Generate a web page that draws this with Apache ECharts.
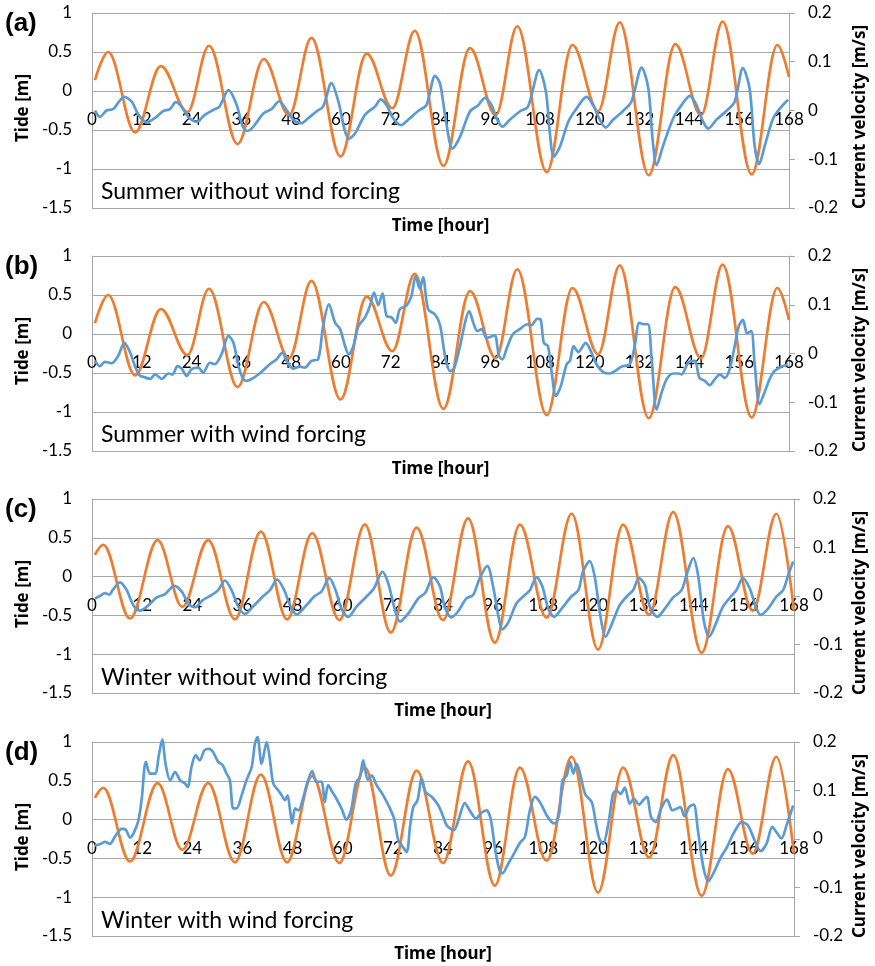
<!DOCTYPE html>
<html><head><meta charset="utf-8">
<script src="https://cdn.jsdelivr.net/npm/echarts@6/dist/echarts.min.js"></script>
<style>html,body{margin:0;padding:0;background:#fff}#c{width:875px;height:966px}</style>
</head><body><div id="c"></div>
<script>
// ---------- data ----------
const panelLetters = ['(a)', '(b)', '(c)', '(d)'];
const panelTitles = ['Summer without wind forcing', 'Summer with wind forcing', 'Winter without wind forcing', 'Winter with wind forcing'];
const xAxisTitle = 'Time [hour]';
const leftAxisTitle = 'Tide [m]';
const rightAxisTitle = 'Current velocity [m/s]';

// tide [m] : [hour, value] at turning points
const summerTide = [[0.7,0.14],[3.9,0.50],[10.4,-0.53],[16.6,0.32],[23.0,-0.27],[28.2,0.58],[35.1,-0.68],[41.4,0.41],[47.5,-0.31],[52.9,0.68],[59.9,-0.84],[66.2,0.48],[72.4,-0.22],[77.8,0.77],[84.7,-0.96],[91.1,0.55],[97.3,-0.31],[102.5,0.83],[109.6,-1.04],[115.8,0.59],[122.0,-0.26],[127.2,0.88],[134.2,-1.08],[140.6,0.60],[146.8,-0.31],[152.0,0.89],[159.0,-1.07],[165.2,0.59],[168,0.18]];
const winterTide = [[0.7,0.28],[2.7,0.41],[9.1,-0.54],[15.7,0.47],[21.6,-0.39],[27.8,0.47],[34.2,-0.55],[40.4,0.58],[46.7,-0.55],[52.7,0.56],[59.2,-0.56],[65.3,0.67],[71.5,-0.72],[77.7,0.63],[84.0,-0.56],[90.0,0.75],[96.4,-0.85],[102.4,0.67],[108.8,-0.53],[114.8,0.81],[121.1,-0.94],[127.1,0.67],[133.3,-0.49],[139.1,0.83],[145.9,-0.98],[152.2,0.65],[158.1,-0.44],[163.8,0.81],[168,-0.44]];

// current velocity [m/s]
const velA = [[0.7,0.000],[1.9,-0.013],[3.5,0.000],[5.1,0.003],[7.8,0.028],[9.6,0.018],[11.2,-0.009],[13.2,-0.024],[15.2,-0.015],[17.2,-0.001],[18.8,0.003],[20.2,0.017],[21.6,0.008],[23.2,-0.013],[25.2,-0.023],[27.2,-0.009],[29.2,0.001],[30.7,0.008],[32.9,0.042],[34.9,0.011],[36.2,-0.030],[37.4,-0.042],[38.9,-0.033],[41.3,-0.006],[43.3,0.003],[45.1,0.019],[46.9,0.001],[48.5,-0.019],[50.4,-0.026],[52.1,-0.016],[54.1,-0.002],[55.7,0.008],[57.7,0.056],[59.4,0.018],[60.8,-0.037],[61.9,-0.058],[63.4,-0.047],[65.8,-0.009],[68.2,0.008],[69.6,0.023],[71.0,0.011],[72.6,-0.016],[74.5,-0.030],[76.2,-0.019],[78.6,-0.001],[80.6,0.011],[82.7,0.071],[83.9,0.055],[85.2,-0.015],[86.9,-0.078],[88.7,-0.054],[91.1,-0.002],[93.1,0.011],[94.7,0.026],[96.3,0.011],[97.5,-0.016],[98.9,-0.033],[100.7,-0.019],[103.1,-0.002],[105.1,0.008],[107.8,0.083],[109.4,0.039],[110.4,-0.050],[111.3,-0.095],[112.8,-0.074],[114.8,-0.023],[116.8,0.004],[119.2,0.028],[120.8,0.011],[122.4,-0.019],[123.8,-0.035],[125.6,-0.019],[128.0,-0.001],[130.0,0.018],[132.5,0.088],[134.1,0.045],[135.1,-0.057],[136.1,-0.112],[137.7,-0.071],[140.1,-0.016],[142.1,0.011],[144.1,0.030],[145.7,0.011],[147.3,-0.023],[148.5,-0.037],[150.5,-0.019],[152.9,-0.001],[154.9,0.018],[156.9,0.087],[158.5,0.045],[159.7,-0.071],[160.8,-0.110],[162.2,-0.071],[164.2,-0.016],[166.2,0.008],[167.8,0.022]];
const velB = [[0.7,-0.015],[1.9,-0.026],[3.1,-0.017],[4.7,-0.020],[6.3,-0.005],[7.8,0.022],[9.2,0.002],[10.4,-0.027],[11.6,-0.046],[12.4,-0.048],[14.0,-0.052],[15.2,-0.043],[16.9,-0.052],[18.4,-0.041],[19.4,-0.043],[20.6,-0.026],[21.6,-0.031],[22.8,-0.046],[24.0,-0.032],[25.6,-0.029],[26.8,-0.039],[28.4,-0.019],[29.6,-0.022],[31.2,-0.002],[32.9,0.036],[34.1,0.022],[35.3,-0.026],[36.5,-0.053],[37.3,-0.056],[38.5,-0.052],[40.1,-0.043],[41.7,-0.031],[43.3,-0.019],[44.5,-0.012],[45.9,0.002],[46.9,-0.015],[48.5,-0.031],[50.1,-0.027],[51.3,-0.029],[52.9,-0.015],[54.5,-0.012],[55.7,0.056],[57.1,0.101],[58.6,0.063],[59.8,0.050],[61.0,0.015],[61.9,-0.002],[63.0,0.015],[64.2,0.056],[65.8,0.074],[67.0,0.098],[68.0,0.125],[69.0,0.099],[70.0,0.123],[71.0,0.077],[72.2,0.074],[73.2,0.063],[74.2,0.091],[75.8,0.098],[77.0,0.118],[78.0,0.159],[79.0,0.133],[79.8,0.156],[81.0,0.091],[82.7,0.080],[83.9,0.058],[85.1,-0.005],[86.3,-0.036],[87.2,-0.032],[88.7,0.015],[89.9,0.063],[90.9,0.087],[91.9,0.063],[92.9,0.046],[93.9,0.050],[95.1,0.032],[96.3,0.035],[97.1,0.037],[98.1,-0.005],[98.9,-0.012],[99.9,0.009],[101.4,0.039],[103.1,0.050],[104.9,0.060],[105.9,0.058],[107.3,0.071],[108.1,0.070],[108.9,0.022],[109.9,0.015],[110.8,-0.039],[111.8,-0.087],[113.0,-0.067],[114.4,-0.022],[115.2,-0.015],[116.1,0.015],[117.2,0.003],[119.0,0.022],[120.4,0.002],[121.6,-0.022],[123.2,-0.038],[124.8,-0.041],[126.4,-0.034],[127.6,-0.027],[129.6,-0.022],[130.8,0.015],[131.9,0.063],[133.0,0.060],[134.0,0.060],[134.9,-0.012],[136.1,-0.115],[137.3,-0.080],[138.5,-0.053],[140.1,-0.041],[141.3,-0.041],[142.1,-0.043],[143.7,-0.019],[145.3,-0.015],[146.4,-0.050],[147.7,-0.056],[148.9,-0.065],[150.1,-0.053],[151.3,-0.043],[152.5,-0.050],[153.7,-0.032],[154.9,0.015],[155.9,0.056],[156.9,0.069],[157.9,0.041],[158.9,0.046],[159.7,-0.019],[160.9,-0.104],[162.1,-0.080],[163.3,-0.053],[164.5,-0.036],[166.2,-0.027],[167.8,-0.022]];
const velC = [[0.7,-0.005],[1.9,0.000],[3.1,0.006],[4.1,0.003],[5.1,0.014],[6.7,0.028],[8.3,0.012],[9.9,-0.019],[11.5,-0.030],[13.5,-0.019],[15.5,-0.003],[17.5,0.004],[19.7,0.021],[21.5,0.009],[23.0,-0.015],[24.6,-0.023],[26.6,-0.008],[28.6,0.002],[30.2,0.012],[31.8,0.032],[33.4,0.012],[35.0,-0.022],[36.6,-0.037],[38.6,-0.021],[41.0,0.000],[42.6,0.012],[44.3,0.034],[46.0,0.012],[47.4,-0.019],[49.0,-0.038],[51.0,-0.022],[53.3,0.000],[54.9,0.009],[56.8,0.037],[58.3,0.012],[59.7,-0.026],[61.3,-0.043],[63.3,-0.022],[65.7,-0.001],[67.5,0.016],[69.5,0.050],[70.9,0.026],[72.3,-0.022],[73.7,-0.053],[75.7,-0.036],[78.1,-0.005],[79.7,0.006],[81.7,0.039],[83.3,0.019],[84.4,-0.022],[86.0,-0.044],[87.6,-0.032],[89.6,-0.005],[91.2,0.002],[92.8,0.037],[94.6,0.062],[96.0,0.019],[97.2,-0.039],[98.2,-0.069],[99.6,-0.055],[101.6,-0.015],[103.6,0.002],[104.8,0.012],[106.4,0.039],[107.8,0.019],[109.2,-0.026],[110.6,-0.043],[112.4,-0.026],[114.7,-0.001],[116.4,0.012],[117.5,0.050],[119.1,0.072],[120.3,0.040],[121.7,-0.043],[122.9,-0.084],[124.3,-0.060],[126.3,-0.019],[128.3,0.002],[129.5,0.012],[130.9,0.037],[132.3,0.023],[133.5,-0.022],[135.3,-0.043],[137.1,-0.026],[139.1,-0.003],[141.1,0.012],[142.4,0.047],[143.9,0.078],[145.1,0.040],[146.4,-0.050],[147.7,-0.084],[149.0,-0.063],[151.0,-0.022],[153.0,0.000],[154.2,0.012],[155.8,0.037],[157.4,0.016],[158.6,-0.015],[160.0,-0.039],[161.8,-0.026],[163.8,-0.001],[165.4,0.012],[166.6,0.043],[167.8,0.071]];
const velD = [[0.7,-0.013],[1.9,-0.011],[3.1,-0.006],[4.3,-0.010],[5.5,0.005],[7.1,0.021],[8.1,0.019],[9.1,0.003],[9.9,0.011],[11.1,0.038],[11.9,0.083],[12.9,0.159],[13.9,0.135],[15.1,0.135],[16.0,0.173],[16.8,0.205],[17.6,0.155],[18.7,0.121],[19.9,0.138],[21.1,0.121],[22.2,0.115],[22.9,0.107],[23.8,0.148],[24.8,0.173],[25.8,0.162],[26.9,0.183],[28.0,0.186],[29.0,0.179],[30.2,0.159],[31.2,0.153],[32.2,0.135],[33.0,0.121],[33.8,0.063],[34.6,0.063],[35.8,0.090],[37.0,0.122],[38.2,0.148],[39.0,0.197],[39.6,0.210],[40.6,0.155],[41.8,0.200],[42.6,0.162],[43.4,0.114],[44.6,0.100],[45.4,0.090],[46.2,0.080],[46.8,0.090],[47.4,0.059],[47.9,0.032],[48.6,0.063],[49.4,0.059],[50.6,0.087],[51.6,0.118],[52.7,0.140],[53.7,0.118],[54.9,0.118],[55.7,0.076],[56.5,0.111],[57.5,0.097],[58.5,0.083],[59.7,0.063],[60.9,0.040],[62.0,0.059],[63.1,0.114],[64.1,0.128],[64.9,0.162],[66.0,0.122],[66.9,0.131],[68.1,0.111],[69.7,0.090],[71.3,0.063],[72.3,0.042],[73.3,-0.003],[74.1,-0.013],[75.3,-0.027],[76.1,0.025],[76.9,0.066],[77.9,0.080],[78.9,0.124],[79.8,0.097],[81.3,0.087],[82.9,0.069],[84.1,0.045],[84.9,0.028],[86.6,0.018],[87.9,0.045],[89.2,0.074],[90.6,0.056],[91.9,0.042],[93.2,0.054],[94.4,0.059],[95.4,0.042],[96.4,-0.016],[97.4,-0.061],[98.2,-0.071],[99.6,-0.051],[101.2,-0.027],[102.4,-0.008],[103.6,0.004],[104.8,0.059],[106.0,0.087],[107.2,0.076],[108.8,0.049],[110.0,0.035],[110.8,0.032],[111.8,0.052],[112.6,0.121],[113.6,0.131],[114.4,0.159],[115.2,0.135],[116.0,0.155],[116.8,0.135],[118.0,0.093],[119.6,0.076],[120.6,0.032],[121.4,0.001],[122.3,-0.010],[123.5,0.028],[124.7,0.093],[125.5,0.100],[126.5,0.093],[127.5,0.106],[128.7,0.073],[129.7,0.083],[130.9,0.071],[132.0,0.081],[132.8,0.087],[133.8,0.045],[134.9,0.035],[136.2,0.063],[137.6,0.081],[138.9,0.059],[140.0,0.063],[140.8,0.066],[141.8,0.047],[142.9,0.066],[144.0,0.071],[145.0,0.018],[146.3,-0.058],[147.5,-0.087],[148.7,-0.071],[150.3,-0.041],[152.0,-0.016],[153.5,0.011],[155.5,0.035],[157.0,0.028],[158.6,-0.003],[160.0,-0.025],[161.4,-0.010],[162.8,0.025],[163.8,0.014],[165.0,0.001],[166.2,0.028],[167.8,0.069]];

const tideSeries = [summerTide, summerTide, winterTide, winterTide];
const velSeries = [velA, velB, velC, velD];

// ---------- layout ----------
const tops = [13, 256, 499, 742];
const heights = [195, 195, 194, 194];
const rights = [86, 86, 81, 81];
const LEFT = 92, W = 875;
const GRID = '#a6a6a6';
const tickFont = 'Lato, "Open Sans", sans-serif';
const titleFont = '"Noto Sans", "DejaVu Sans", sans-serif';

const grids = [], xAxes = [], yAxes = [], series = [], graphic = [];
for (let i = 0; i < 4; i++) {
  grids.push({ left: LEFT, right: rights[i], top: tops[i], height: heights[i], outerBoundsMode: 'none', containLabel: false });
  // x axis sits at the zero of the right (velocity) axis, i.e. the vertical middle of the plot
  xAxes.push({
    gridIndex: i, type: 'value', min: 0, max: 168, interval: 12,
    position: 'bottom', offset: -heights[i] / 2,
    axisLine: { show: false, onZero: false },
    axisTick: { show: false }, splitLine: { show: false },
    axisLabel: { margin: 1, fontSize: 17, color: '#000', fontFamily: tickFont, hideOverlap: false }
  });
  yAxes.push({
    gridIndex: i, type: 'value', position: 'left', min: -1.5, max: 1, interval: 0.5,
    axisLine: { show: true, onZero: false, lineStyle: { color: GRID, width: 1 } },
    axisTick: { show: false },
    splitLine: { show: true, lineStyle: { color: GRID, width: 1 } },
    axisLabel: { margin: 20, fontSize: 17, color: '#000', fontFamily: tickFont }
  });
  yAxes.push({
    gridIndex: i, type: 'value', position: 'right', min: -0.2, max: 0.2, interval: 0.1,
    axisLine: { show: true, onZero: false, lineStyle: { color: GRID, width: 1 } },
    axisTick: { show: true, inside: false, length: 6, lineStyle: { color: GRID } },
    splitLine: { show: false },
    axisLabel: { margin: 19, fontSize: 17, color: '#000', fontFamily: tickFont }
  });
  series.push({
    type: 'line', xAxisIndex: i, yAxisIndex: 2 * i, data: tideSeries[i],
    smooth: 0.36, smoothMonotone: 'x', showSymbol: false, symbol: 'none',
    lineStyle: { color: '#ED7D31', width: 2.7 }, itemStyle: { color: '#ED7D31' }, z: 2
  });
  series.push({
    type: 'line', xAxisIndex: i, yAxisIndex: 2 * i + 1, data: velSeries[i],
    smooth: 0.3, showSymbol: false, symbol: 'none', clip: false,
    lineStyle: { color: '#5B9BD5', width: 2.7 }, itemStyle: { color: '#5B9BD5' }, z: 3
  });
  const top = tops[i], h = heights[i], right = W - rights[i];
  graphic.push({ type: 'text', x: 5, y: top + 11, style: { text: panelLetters[i], font: 'bold 26px "Liberation Sans", Arial, sans-serif', fill: '#000', textAlign: 'left', textVerticalAlign: 'middle' } });
  graphic.push({ type: 'text', x: 101, y: top + 179, style: { text: panelTitles[i], font: '23px ' + tickFont, fill: '#000', textAlign: 'left', textVerticalAlign: 'middle' } });
  graphic.push({ type: 'text', x: (LEFT + right) / 2, y: top + h + 18, style: { text: xAxisTitle, font: 'bold 17px ' + titleFont, fill: '#000', textAlign: 'center', textVerticalAlign: 'middle' } });
  graphic.push({ type: 'text', x: 23, y: top + 95, rotation: Math.PI / 2, style: { text: leftAxisTitle, font: 'bold 17px ' + titleFont, fill: '#000', textAlign: 'center', textVerticalAlign: 'middle' } });
  graphic.push({ type: 'text', x: 860, y: top + 104, rotation: Math.PI / 2, style: { text: rightAxisTitle, font: 'bold 17px ' + titleFont, fill: '#000', textAlign: 'center', textVerticalAlign: 'middle' } });
}

const chart = echarts.init(document.getElementById('c'), null, { renderer: 'canvas' });
chart.setOption({
  animation: false,
  backgroundColor: '#fff',
  grid: grids, xAxis: xAxes, yAxis: yAxes, series: series, graphic: graphic
});
</script>
</body></html>
